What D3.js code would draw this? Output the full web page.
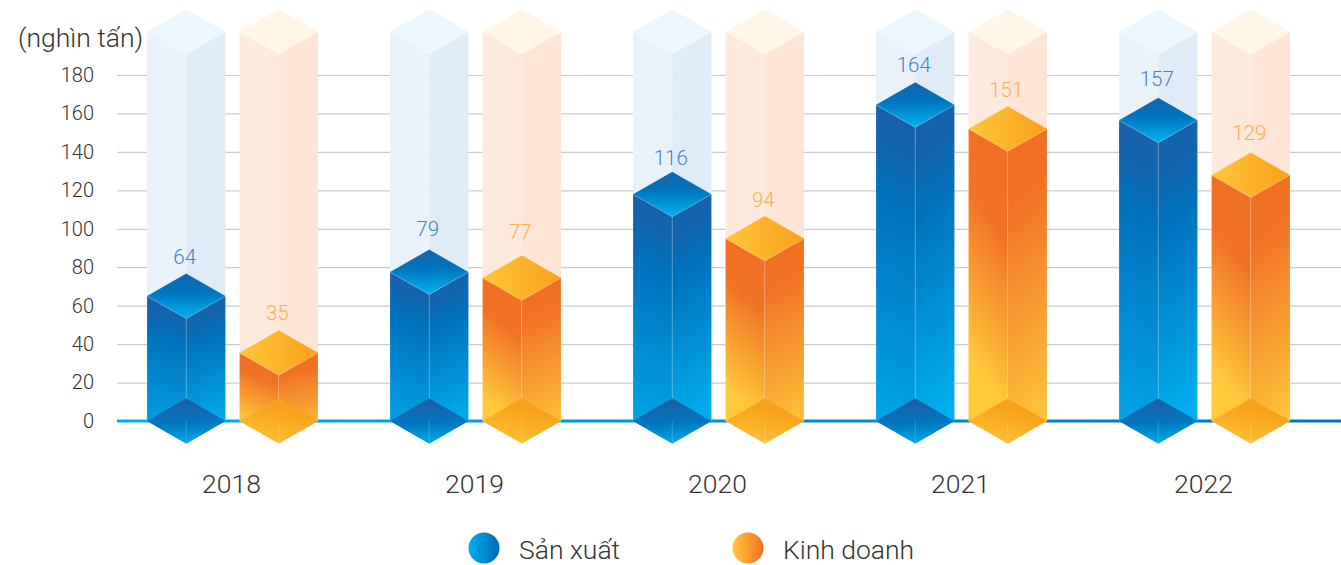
<!DOCTYPE html>
<html>
<head>
<meta charset="utf-8">
<script src="https://cdn.jsdelivr.net/npm/d3@7"></script>
<style>
    html, body { margin: 0; padding: 0; background: #fff; overflow: hidden; }
    text { font-family: Roboto, sans-serif; font-weight: 300; }
</style>
</head>
<body>
<div id="chart"></div>
<script>
const years = ["2018", "2019", "2020", "2021", "2022"];
const seriesNames = ["Sản xuất", "Kinh doanh"];

//printed labels
const sanXuat = [64, 79, 116, 164, 157];
const kinhDoanh = [35, 77, 94, 151, 129];

//drawn heights, they differ a little from the labels
const sanXuatHeight = [65, 77.5, 118, 164.5, 156.5];
const kinhDoanhHeight = [35.5, 74.5, 95, 152, 128];

const yTicks = [0, 20, 40, 60, 80, 100, 120, 140, 160, 180];
const ghostHeight = 202.5;

const width = 1341;
const height = 565;

const svg = d3.select("#chart")
    .append("svg")
    .attr("width", width)
    .attr("height", height);

const yScale = d3.scaleLinear()
    .domain([0, 180])
    .range([421, 75]);

const xScale = d3.scaleBand()
    .domain(years)
    .range([111, 1326]);

const innerScale = d3.scaleBand()
    .domain(seriesNames)
    .range([xScale.bandwidth() / 2 - 85.5, xScale.bandwidth() / 2 + 85.5])
    .paddingInner(13 / 85.5);

const halfWidth = innerScale.bandwidth() / 2;
const capHeight = 22.5;

//flatten into one row per bar
const bars = [];
years.forEach(function(year, i) {
    bars.push({ year: year, name: seriesNames[0], key: "blue", label: sanXuat[i], value: sanXuatHeight[i] });
    bars.push({ year: year, name: seriesNames[1], key: "orange", label: kinhDoanh[i], value: kinhDoanhHeight[i] });
});

function centerX(d) {
    return xScale(d.year) + innerScale(d.name) + halfWidth;
}

const defs = svg.append("defs");

function addGradient(id, x1, y1, x2, y2, stops) {
    const g = defs.append("linearGradient")
        .attr("id", id)
        .attr("x1", x1).attr("y1", y1)
        .attr("x2", x2).attr("y2", y2);
    stops.forEach(function(s) {
        g.append("stop").attr("offset", s[0]).attr("stop-color", s[1]);
    });
}

//left and right faces lean opposite ways
addGradient("blueLeft", 0.53, 0, 0.47, 1, [[0, "#1b60ab"], [0.14, "#1265ae"], [0.28, "#0071bc"], [1, "#00a8ea"]]);
addGradient("blueRight", 0.45, 0, 0.55, 1, [[0, "#1b60ab"], [0.14, "#1265ae"], [0.28, "#0071bc"], [0.92, "#00aeef"], [1, "#00aeef"]]);
addGradient("blueCap", 0, 0, 0, 1, [[0, "#1a62ad"], [0.4, "#0074bd"], [1, "#00b1f1"]]);
addGradient("blueBase", 0.5, 0.1, 0.6, 1, [[0, "#1b60ab"], [0.5, "#0078c1"], [1, "#00aaec"]]);
addGradient("orangeLeft", 0.55, 0.05, 0.42, 0.8, [[0, "#f17024"], [0.3, "#f17225"], [1, "#ffc93c"]]);
addGradient("orangeRight", 0.45, 0.1, 0.55, 1, [[0, "#f17024"], [0.12, "#f17225"], [1, "#ffc93c"]]);
addGradient("orangeCap", 0, 0, 1, 0, [[0, "#ffc73a"], [1, "#faa01a"]]);
addGradient("orangeBase", 0.55, 0.2, 0.2, 1, [[0, "#f8a11a"], [1, "#ffc338"]]);
addGradient("blueDot", 0, 0, 1, 0, [[0, "#00aeef"], [1, "#0069b4"]]);
addGradient("orangeDot", 0, 0, 1, 0, [[0, "#ffc93c"], [1, "#f26f25"]]);

defs.append("linearGradient")
    .attr("id", "baseLine")
    .attr("gradientUnits", "userSpaceOnUse")
    .attr("x1", 117).attr("y1", 0)
    .attr("x2", 1341).attr("y2", 0)
    .call(function(g) {
        g.append("stop").attr("offset", 0).attr("stop-color", "#00aeef");
        g.append("stop").attr("offset", 1).attr("stop-color", "#0072bc");
    });

const ghostColors = {
    blue: { left: "#e9f1f9", right: "#dfebf7", top: "#ebf7fd" },
    orange: { left: "#fee9dd", right: "#fee5d6", top: "#fff6e7" }
};

const labelColors = { blue: "#4285c6", orange: "#fbb04a" };

const polygon = d3.line();

function leftFace(d, value) {
    const c = centerX(d);
    const y0 = yScale(value);
    return polygon([[c - halfWidth, y0], [c, y0 + capHeight], [c, yScale(0) + capHeight], [c - halfWidth, yScale(0)]]) + "Z";
}

function rightFace(d, value) {
    const c = centerX(d);
    const y0 = yScale(value);
    return polygon([[c + halfWidth, y0], [c, y0 + capHeight], [c, yScale(0) + capHeight], [c + halfWidth, yScale(0)]]) + "Z";
}

function diamond(d, value) {
    const c = centerX(d);
    const y0 = yScale(value);
    return polygon([[c - halfWidth, y0], [c, y0 - capHeight], [c + halfWidth, y0], [c, y0 + capHeight]]) + "Z";
}

//y axis with gridlines
const yAxis = svg.append("g")
    .attr("transform", "translate(117,0)")
    .call(d3.axisLeft(yScale).tickValues(yTicks).tickSize(0).tickPadding(23));

yAxis.select(".domain").remove();

yAxis.selectAll("text")
    .style("font-size", "20px")
    .style("font-family", "Roboto, sans-serif")
    .attr("fill", "#333");

yAxis.selectAll(".tick")
    .filter(function(d) { return d !== 0; })
    .append("line")
    .attr("x1", 0)
    .attr("x2", width - 117)
    .attr("stroke", "#cccccc")
    .attr("stroke-width", 1.2);

svg.append("text")
    .attr("x", 18)
    .attr("y", 47)
    .attr("font-size", "26.5px")
    .attr("fill", "#333")
    .text("(nghìn tấn)");

//pale full height columns
const ghosts = svg.append("g").selectAll("g")
    .data(bars)
    .enter()
    .append("g");

ghosts.append("path")
    .attr("d", function(d) { return leftFace(d, ghostHeight); })
    .attr("fill", function(d) { return ghostColors[d.key].left; });

ghosts.append("path")
    .attr("d", function(d) { return rightFace(d, ghostHeight); })
    .attr("fill", function(d) { return ghostColors[d.key].right; });

ghosts.append("path")
    .attr("d", function(d) { return diamond(d, ghostHeight); })
    .attr("fill", function(d) { return ghostColors[d.key].top; });

svg.append("line")
    .attr("x1", 117)
    .attr("x2", width)
    .attr("y1", yScale(0))
    .attr("y2", yScale(0))
    .attr("stroke", "url(#baseLine)")
    .attr("stroke-width", 3);

//solid columns
const solid = svg.append("g").selectAll("g")
    .data(bars)
    .enter()
    .append("g");

solid.append("path")
    .attr("d", function(d) { return leftFace(d, d.value); })
    .attr("fill", function(d) { return "url(#" + d.key + "Left)"; })
    .attr("stroke", "#fff")
    .attr("stroke-opacity", 0.15);

solid.append("path")
    .attr("d", function(d) { return rightFace(d, d.value); })
    .attr("fill", function(d) { return "url(#" + d.key + "Right)"; })
    .attr("stroke", "#fff")
    .attr("stroke-opacity", 0.15);

solid.append("path")
    .attr("d", function(d) { return diamond(d, 0); })
    .attr("fill", function(d) { return "url(#" + d.key + "Base)"; });

solid.append("line")
    .attr("x1", centerX)
    .attr("x2", centerX)
    .attr("y1", yScale(0))
    .attr("y2", yScale(0) + capHeight)
    .attr("stroke", "#fff")
    .attr("stroke-opacity", 0.2);

solid.append("path")
    .attr("d", function(d) { return diamond(d, d.value); })
    .attr("fill", function(d) { return "url(#" + d.key + "Cap)"; })
    .attr("stroke", "#fff")
    .attr("stroke-opacity", 0.15)
    .attr("stroke-width", 0.8);

//labels sit a fixed distance above their printed value
solid.append("text")
    .attr("x", function(d) { return centerX(d) - 1.5; })
    .attr("y", function(d) { return yScale(d.label) - 33.5; })
    .attr("text-anchor", "middle")
    .attr("font-size", "20.5px")
    .attr("fill", function(d) { return labelColors[d.key]; })
    .text(function(d) { return d.label; });

//year labels
svg.append("g").selectAll("text")
    .data(years)
    .enter()
    .append("text")
    .attr("x", function(d) { return xScale(d) + xScale.bandwidth() / 2 - 1; })
    .attr("y", 493)
    .attr("text-anchor", "middle")
    .attr("font-size", "26.5px")
    .attr("fill", "#333")
    .text(function(d) { return d; });

//legend
const legendX = d3.scaleOrdinal()
    .domain(seriesNames)
    .range([484, 748]);

const legend = svg.append("g").selectAll("g")
    .data(seriesNames)
    .enter()
    .append("g")
    .attr("transform", function(d) { return "translate(" + legendX(d) + ",548)"; });

legend.append("circle")
    .attr("r", 15.5)
    .attr("fill", function(d, i) { return i === 0 ? "url(#blueDot)" : "url(#orangeDot)"; });

legend.append("text")
    .attr("x", 35)
    .attr("y", 11)
    .attr("font-size", "26.5px")
    .attr("fill", "#333")
    .text(function(d) { return d; });
</script>
</body>
</html>
